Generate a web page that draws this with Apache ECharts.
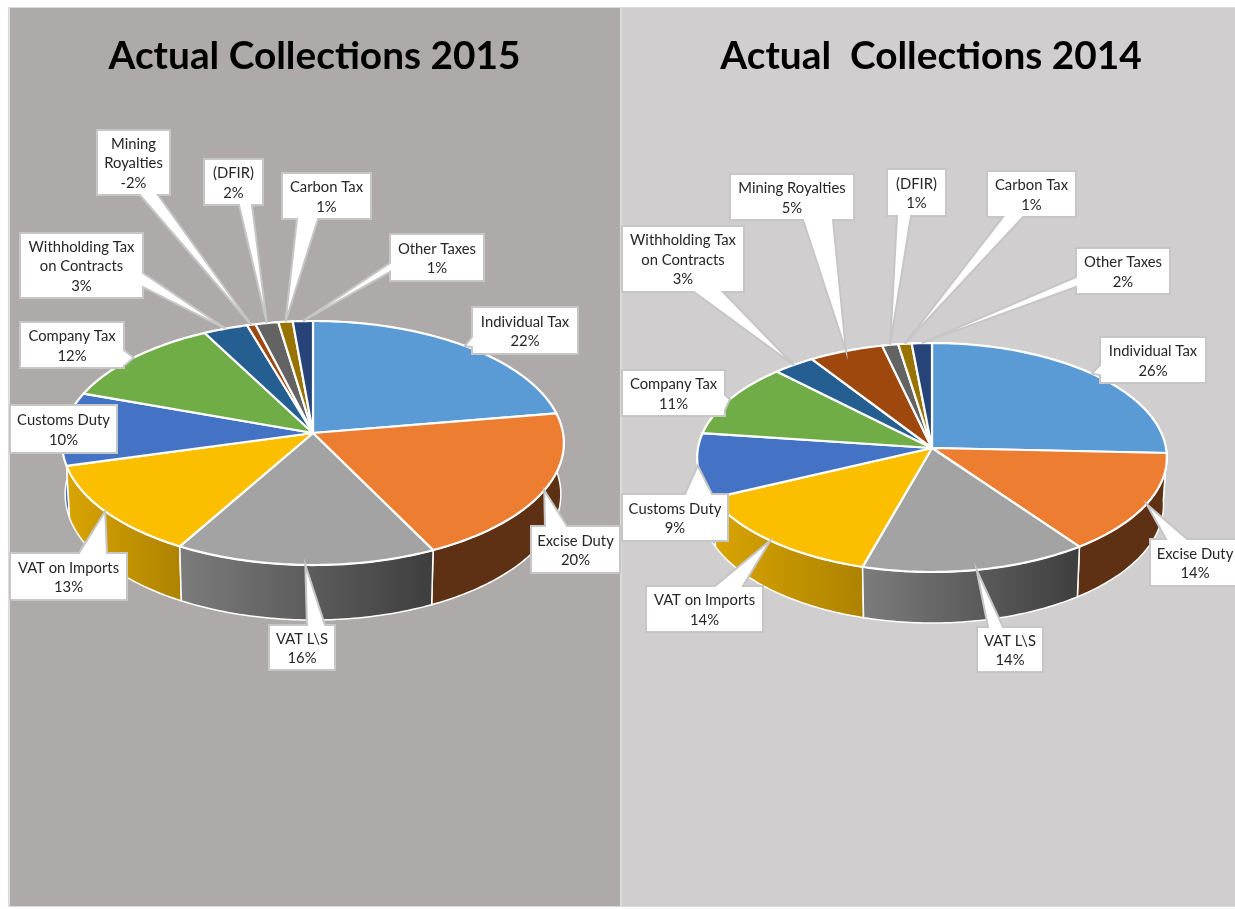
<!DOCTYPE html>
<html>
<head>
<meta charset="utf-8">
<title>Actual Collections</title>
<script src="https://cdn.jsdelivr.net/npm/echarts@6/dist/echarts.min.js"></script>
<style>
  html, body { margin: 0; padding: 0; background: #fff; }
  #chart { width: 1235px; height: 909px; }
</style>
</head>
<body>
<div id="chart"></div>
<script>
// slice shares (Mining 2015 is drawn small although labelled -2%)
const shares2015 = [22.4, 20.3, 15.6, 12.5, 9.7, 11.9, 3.1, 0.6, 1.6, 1.0, 1.4];
const shares2014 = [25.7, 14.3, 14.4, 13.6, 9.1, 10.5, 3.15, 5.55, 1.2, 1.0, 1.5];
const pct2015 = [22, 20, 16, 13, 10, 12, 3, -2, 2, 1, 1];
const pct2014 = [26, 14, 14, 14, 9, 11, 3, 5, 1, 1, 2];
const names2015 = ["Individual Tax", "Excise Duty", "VAT L\\S", "VAT on Imports", "Customs Duty", "Company Tax",
  "Withholding Tax\non Contracts", "Mining\nRoyalties", "(DFIR)", "Carbon Tax", "Other Taxes"];
const names2014 = ["Individual Tax", "Excise Duty", "VAT L\\S", "VAT on Imports", "Customs Duty", "Company Tax",
  "Withholding Tax\non Contracts", "Mining Royalties", "(DFIR)", "Carbon Tax", "Other Taxes"];

// styling
const colors = ["#5b9bd5", "#ed7d31", "#a3a3a3", "#fbbf00", "#4472c4", "#70ad47", "#255e91", "#9e480e", "#636363", "#997300", "#264478"];
const wallFrom = ["#5b9bd5", "#5e3114", "#7c7c7c", "#d9a500", "#4472c4", "#70ad47", "#255e91", "#9e480e", "#636363", "#997300", "#264478"];
const wallTo = ["#3f74a5", "#5e3114", "#3e3e3e", "#ad8200", "#3a62a8", "#70ad47", "#255e91", "#9e480e", "#636363", "#997300", "#264478"];
const fontName = "Lato";

// pie geometry: a tilted disc, k is the perspective of the homography
const geom2015 = { cx: 313, cy: 433, R: 250, S: 121.2, k: 0.082, depth: 51, depthSlope: 4, narrow: 0.988 };
const geom2014 = { cx: 932, cy: 448, R: 234, S: 113.7, k: 0.083, depth: 47, depthSlope: 4, narrow: 0.986 };

// callout boxes [x0, y0, x1, y1, side of the pointer, pointer base a, pointer base b]
const boxes2015 = [
  [472, 307, 578, 354, "left", 337, 347],
  [531, 526, 620, 573, "top", 545, 567],
  [269, 625, 335, 670, "top", 307, 325],
  [10, 553, 127, 600, "top", 79, 107],
  [10, 405, 117, 453, "none"],
  [20, 322, 124, 368, "right", 350, 366],
  [20, 233, 143, 298, "right", 273, 287],
  [97, 130, 170, 195, "bottom", 140, 158],
  [204, 159, 263, 205, "bottom", 239, 252],
  [282, 173, 371, 219, "bottom", 297, 318],
  [390, 234, 484, 281, "left", 263, 272]
];
const boxes2014 = [
  [1100, 337, 1206, 383, "left", 365, 375],
  [1150, 539, 1240, 586, "top", 1166, 1187],
  [977, 627, 1043, 672, "top", 988, 1003],
  [646, 586, 763, 632, "top", 715, 743],
  [622, 494, 728, 541, "top", 685, 712],
  [622, 370, 725, 416, "right", 395, 410],
  [622, 226, 744, 292, "bottom", 694, 723],
  [730, 174, 854, 220, "bottom", 803, 833],
  [887, 169, 946, 216, "bottom", 897, 911],
  [987, 171, 1076, 217, "bottom", 1003, 1023],
  [1076, 248, 1170, 294, "left", 277, 287]
];

function cumulate(shares) {
  const total = shares.reduce((a, b) => a + b, 0);
  let acc = 0;
  return shares.map((s, i) => {
    const start = acc / total;
    acc += s;
    return [start, acc / total, i];
  });
}

function rimPoint(g, frac) {
  const t = frac * 2 * Math.PI;
  const u = Math.sin(t), v = Math.cos(t), w = 1 + g.k * v;
  return [g.cx + g.R * u / w, g.cy - g.S * v / w, v];
}

function arc(g, a, b) {
  const n = Math.max(2, Math.ceil((b - a) * 360));
  const pts = [];
  for (let i = 0; i <= n; i++) {
    pts.push(rimPoint(g, a + (b - a) * i / n));
  }
  return pts;
}

function topSeries(g) {
  return function (params, api) {
    const pts = arc(g, api.value(0), api.value(1)).map(p => [p[0], p[1]]);
    pts.unshift([g.cx, g.cy]);
    return {
      type: "polygon",
      shape: { points: pts },
      style: { fill: colors[api.value(2)], stroke: "#fff", lineWidth: 2.2, lineJoin: "round" }
    };
  };
}

function wallSeries(g) {
  return function (params, api) {
    const a = api.value(0), b = api.value(1), idx = api.value(2);
    const top = arc(g, a, b);
    const bottom = top.map(p => [g.cx + (p[0] - g.cx) * g.narrow, p[1] + g.depth - g.depthSlope * p[2]]);
    const pts = top.map(p => [p[0], p[1]]).concat(bottom.reverse());
    return {
      type: "polygon",
      z2: Math.round(-rimPoint(g, (a + b) / 2)[2] * 100) + 100,
      shape: { points: pts },
      style: {
        fill: {
          type: "linear", x: 0, y: 0, x2: 1, y2: 0,
          colorStops: [{ offset: 0, color: wallFrom[idx] }, { offset: 1, color: wallTo[idx] }]
        },
        stroke: "#fff", lineWidth: 1.5, lineJoin: "round"
      }
    };
  };
}

function calloutPoints(box, tip) {
  const [x0, y0, x1, y1, side, a, b] = box;
  const pts = [[x0, y0]];
  if (side === "top") pts.push([a, y0], tip, [b, y0]);
  pts.push([x1, y0]);
  if (side === "right") pts.push([x1, a], tip, [x1, b]);
  pts.push([x1, y1]);
  if (side === "bottom") pts.push([b, y1], tip, [a, y1]);
  pts.push([x0, y1]);
  if (side === "left") pts.push([x0, b], tip, [x0, a]);
  return pts;
}

function calloutSeries(g, boxes, names, pct) {
  return function (params, api) {
    const idx = api.value(2);
    const box = boxes[idx];
    const mid = rimPoint(g, (api.value(0) + api.value(1)) / 2);
    return {
      type: "group",
      children: [
        {
          type: "polygon",
          shape: { points: calloutPoints(box, [mid[0], mid[1]]) },
          style: { fill: "#fff", stroke: "#c6c6c6", lineWidth: 2, lineJoin: "miter" }
        },
        {
          type: "text",
          z2: 5,
          style: {
            text: names[idx] + "\n" + pct[idx] + "%",
            x: (box[0] + box[2]) / 2,
            y: (box[1] + box[3]) / 2 + 1,
            align: "center",
            verticalAlign: "middle",
            lineHeight: 19.5,
            fontFamily: fontName,
            fontSize: 14.8,
            fill: "#262626"
          }
        }
      ]
    };
  };
}

function pieSeries(g, shares, boxes, names, pct) {
  const data = cumulate(shares);
  const base = { type: "custom", coordinateSystem: "none", data: data, silent: true, animation: false };
  return [
    Object.assign({}, base, { z: 2, renderItem: wallSeries(g) }),
    Object.assign({}, base, { z: 3, renderItem: topSeries(g) }),
    Object.assign({}, base, { z: 4, renderItem: calloutSeries(g, boxes, names, pct) })
  ];
}

const myChart = echarts.init(document.getElementById("chart"));
const titleStyle = { color: "#000", fontFamily: fontName, fontWeight: "bold", fontSize: 38.8 };
myChart.setOption({
  animation: false,
  title: [
    { text: "Actual Collections 2015", left: 309.5, top: 32, textAlign: "center", textStyle: titleStyle },
    { text: "Actual  Collections 2014", left: 926, top: 32, textAlign: "center", textStyle: titleStyle }
  ],
  graphic: [
    { type: "rect", z: -2, shape: { x: 8, y: 7, width: 1227, height: 900 }, style: { fill: "#dcdcdc" } },
    { type: "rect", z: -1, shape: { x: 10, y: 8, width: 610, height: 898 }, style: { fill: "#aeaaaa" } },
    { type: "rect", z: -1, shape: { x: 622, y: 8, width: 613, height: 898 }, style: { fill: "#d0cece" } }
  ],
  series: pieSeries(geom2015, shares2015, boxes2015, names2015, pct2015)
    .concat(pieSeries(geom2014, shares2014, boxes2014, names2014, pct2014))
});
</script>
</body>
</html>
